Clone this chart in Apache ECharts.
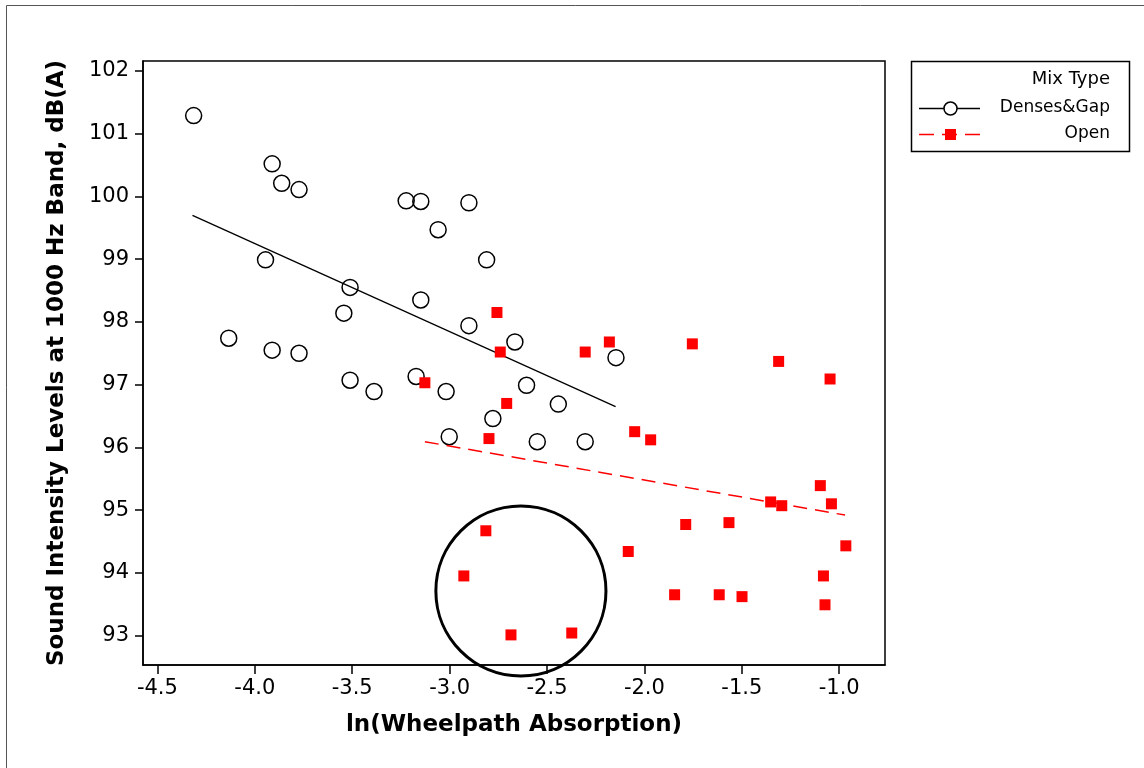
<!DOCTYPE html>
<html>
<head>
<meta charset="utf-8">
<script src="https://cdn.jsdelivr.net/npm/echarts@6/dist/echarts.min.js"></script>
<style>
html,body{margin:0;padding:0;background:#fff;}
#chart{width:1144px;height:768px;}
</style>
</head>
<body>
<div id="chart"></div>
<script>
// ---- data ----
const xTicks = [-4.5, -4.0, -3.5, -3.0, -2.5, -2.0, -1.5, -1.0];
const yTicks = [93, 94, 95, 96, 97, 98, 99, 100, 101, 102];

const denseX = [-4.314,-3.911,-3.862,-3.773,-3.223,-3.148,-2.901,-3.059,-2.810,-3.945,-3.511,-3.148,-3.543,-2.901,-4.134,-3.911,-3.773,-3.511,-3.388,-3.172,-3.018,-2.665,-2.146,-2.605,-2.442,-2.778,-3.002,-2.550,-2.304];
const denseY = [101.29,100.52,100.21,100.11,99.93,99.92,99.90,99.47,98.99,98.99,98.55,98.35,98.14,97.94,97.74,97.55,97.50,97.07,96.89,97.13,96.89,97.68,97.43,96.99,96.69,96.46,96.17,96.09,96.09];

const openX = [-3.127,-2.757,-2.740,-2.707,-2.798,-2.304,-2.180,-1.754,-1.311,-1.047,-2.050,-1.968,-1.097,-1.040,-1.352,-1.295,-1.788,-1.566,-2.083,-0.966,-1.081,-1.073,-1.845,-1.616,-1.499,-2.814,-2.927,-2.685,-2.373];
const openY = [97.03,98.15,97.52,96.70,96.14,97.52,97.68,97.65,97.37,97.09,96.25,96.12,95.39,95.10,95.13,95.07,94.77,94.80,94.34,94.43,93.95,93.49,93.65,93.65,93.62,94.67,93.95,93.01,93.04];

const denseFitX = [-4.320, -2.148];
const denseFitY = [99.70, 96.65];
const openFitX = [-3.127, -0.970];
const openFitY = [96.09, 94.92];

// highlight circle (data units): centre and radii
const ringCenter = [-2.634, 93.71];
const ringRadius = [0.4366, 1.355];

const seriesNames = ['Denses&Gap', 'Open'];
const legendTitle = 'Mix Type';

// ---- build ----
const zip = (a, b) => a.map((v, i) => [v, b[i]]);
const FONT = 'DejaVu Sans';

const chart = echarts.init(document.getElementById('chart'), null, {renderer: 'canvas'});

const option = {
  animation: false,
  backgroundColor: '#fff',
  grid: {left: 143, right: 259, top: 61, bottom: 103, show: true, borderColor: '#000', borderWidth: 1.5, backgroundColor: 'transparent'},
  xAxis: {
    type: 'value', min: -4.574, max: -0.765,
    name: 'ln(Wheelpath Absorption)', nameLocation: 'middle', nameGap: 49,
    nameTextStyle: {fontFamily: FONT, fontWeight: 'bold', fontSize: 23, color: '#000'},
    axisLine: {show: true, onZero: false, lineStyle: {color: '#000', width: 1.5}},
    axisTick: {show: true, inside: false, length: 9, customValues: xTicks, lineStyle: {color: '#000', width: 1.5}},
    axisLabel: {customValues: xTicks, formatter: v => Number(v).toFixed(1), fontFamily: FONT, fontSize: 21, color: '#000', margin: 13},
    splitLine: {show: false}
  },
  yAxis: {
    type: 'value', min: 92.53, max: 102.16,
    name: 'Sound Intensity Levels at 1000 Hz Band, dB(A)', nameLocation: 'middle', nameGap: 74,
    nameTextStyle: {fontFamily: FONT, fontWeight: 'bold', fontSize: 23, color: '#000'},
    axisLine: {show: true, onZero: false, lineStyle: {color: '#000', width: 1.5}},
    axisTick: {show: true, inside: false, length: 8, customValues: yTicks, lineStyle: {color: '#000', width: 1.5}},
    axisLabel: {customValues: yTicks, formatter: v => String(Math.round(v)), fontFamily: FONT, fontSize: 21, color: '#000', margin: 14},
    splitLine: {show: false}
  },
  series: [
    {
      name: seriesNames[0], type: 'scatter', data: zip(denseX, denseY),
      symbol: 'circle', symbolSize: 16,
      itemStyle: {color: 'rgba(255,255,255,0)', borderColor: '#000', borderWidth: 1.5, opacity: 1},
      z: 2
    },
    {
      name: seriesNames[0] + ' fit', type: 'line', data: zip(denseFitX, denseFitY),
      symbol: 'none', lineStyle: {color: '#000', width: 1.3}, z: 3
    },
    {
      name: seriesNames[1] + ' fit', type: 'line', data: zip(openFitX, openFitY),
      symbol: 'none', lineStyle: {color: '#ff0000', width: 1.5, type: [14, 8]}, z: 3
    },
    {
      name: seriesNames[1], type: 'scatter', data: zip(openX, openY),
      symbol: 'rect', symbolSize: 11,
      itemStyle: {color: '#ff0000', opacity: 1},
      z: 4
    }
  ]
};
chart.setOption(option);

// overlay: highlight ring (from data units) + legend + outer frame
const c = chart.convertToPixel({gridIndex: 0}, ringCenter);
const ex = chart.convertToPixel({gridIndex: 0}, [ringCenter[0] + ringRadius[0], ringCenter[1] + ringRadius[1]]);
const rx = Math.abs(ex[0] - c[0]);
const ry = Math.abs(ex[1] - c[1]);

const LX = 911.5, LY = 61.5, LW = 218, LH = 90;
chart.setOption({
  graphic: [
    {type: 'rect', shape: {x: 6.5, y: 5.5, width: 1200, height: 800}, style: {fill: 'none', stroke: '#555', lineWidth: 1}, z: 0, silent: true},
    {type: 'ellipse', shape: {cx: c[0], cy: c[1], rx: rx, ry: ry}, style: {fill: 'none', stroke: '#000', lineWidth: 3}, z: 50, silent: true},
    {type: 'group', z: 60, children: [
      {type: 'rect', shape: {x: LX, y: LY, width: LW, height: LH}, style: {fill: '#fff', stroke: '#000', lineWidth: 1.5}},
      {type: 'text', x: 1110, y: 79, style: {text: legendTitle, font: '18px "DejaVu Sans"', fill: '#000', align: 'right', verticalAlign: 'middle'}},
      {type: 'line', shape: {x1: 919, y1: 108.5, x2: 980, y2: 108.5}, style: {stroke: '#000', lineWidth: 1.3}},
      {type: 'circle', shape: {cx: 950.5, cy: 108.5, r: 6.5}, style: {fill: '#fff', stroke: '#000', lineWidth: 1.5}},
      {type: 'text', x: 1110, y: 108, style: {text: seriesNames[0], font: '17px "DejaVu Sans"', fill: '#000', align: 'right', verticalAlign: 'middle'}},
      {type: 'line', shape: {x1: 919, y1: 134.5, x2: 980, y2: 134.5}, style: {stroke: '#ff0000', lineWidth: 1.5, lineDash: [15, 8]}},
      {type: 'rect', shape: {x: 945, y: 129, width: 11, height: 11}, style: {fill: '#ff0000'}},
      {type: 'text', x: 1110, y: 134, style: {text: seriesNames[1], font: '17px "DejaVu Sans"', fill: '#000', align: 'right', verticalAlign: 'middle'}}
    ]}
  ]
});
</script>
</body>
</html>
